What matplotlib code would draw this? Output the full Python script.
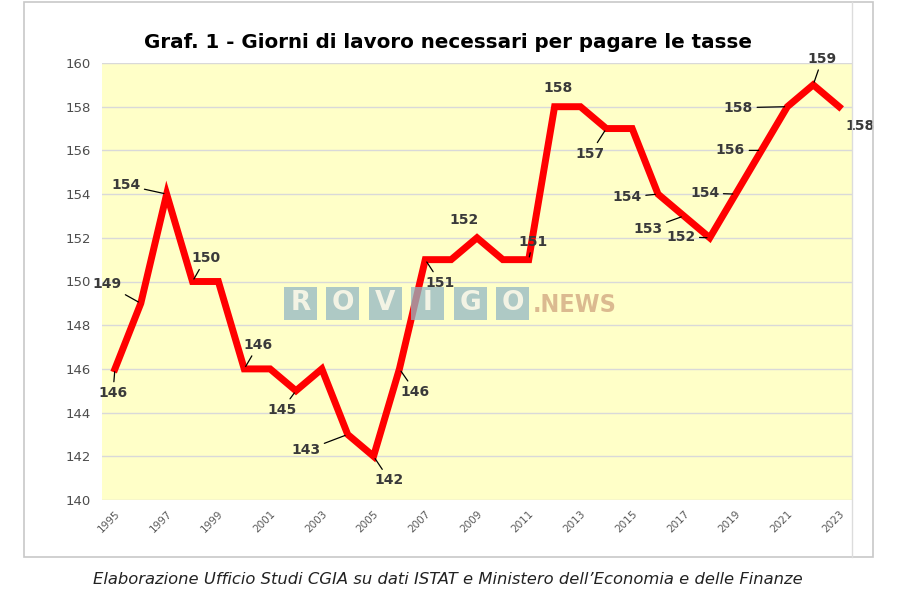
import matplotlib
matplotlib.use("Agg")
import matplotlib.pyplot as plt
from matplotlib.patches import Rectangle
from matplotlib.lines import Line2D

# ---- data ----
years = list(range(1995, 2024))
giorni = [146, 149, 154, 150, 150, 146, 146, 145, 146, 143, 142, 146, 151, 151,
          152, 151, 151, 158, 158, 157, 157, 154, 153, 152, 154, 156, 158, 159, 158]
labeled_years = [1995, 1996, 1997, 1998, 2000, 2002, 2004, 2005, 2006, 2007, 2009,
                 2011, 2012, 2014, 2016, 2017, 2018, 2019, 2020, 2021, 2022, 2023]
title = "Graf. 1 - Giorni di lavoro necessari per pagare le tasse"
caption = "Elaborazione Ufficio Studi CGIA su dati ISTAT e Ministero dell\u2019Economia e delle Finanze"
y_ticks = [140, 142, 144, 146, 148, 150, 152, 154, 156, 158, 160]

# ---- layout (label offsets in pixels) ----
label_offsets = {
    1995: (-2, -24), 1996: (-34, 19), 1997: (-41, 9), 1998: (13, 23),
    2000: (14, 24), 2002: (-14, -19), 2004: (-42, -16), 2005: (16, -24),
    2006: (16, -23), 2007: (15, -23), 2009: (-13, 18), 2011: (4, 18),
    2012: (3, 19), 2014: (-16, -25), 2016: (-31, -3), 2017: (-36, -13),
    2018: (-29, 1), 2019: (-31, 1), 2020: (-31, 0), 2021: (-49, -1),
    2022: (9, 26), 2023: (21, -19),
}
no_leader = {2009, 2012, 2023}

W, H = 900, 600
fig = plt.figure(figsize=(9, 6), dpi=100)
fig.patch.set_facecolor("white")

# outer frames
fig.add_artist(Rectangle((24 / W, 1 - 557 / H), (873 - 24) / W, (557 - 2) / H,
                         transform=fig.transFigure, fill=False,
                         edgecolor="#c8c8c8", lw=1.2))
fig.add_artist(Line2D([852 / W, 852 / W], [1 - 557 / H, 1 - 2 / H],
                      transform=fig.transFigure, color="#dcdcdc", lw=1))

ax = fig.add_axes([102 / W, 1 - 500 / H, (852 - 102) / W, (500 - 63) / H])
ax.set_facecolor("#ffffc8")
x = list(range(len(years)))
ax.plot(x, giorni, color="#ff0000", lw=5.0, solid_joinstyle="miter", zorder=3)

ax.set_xlim(-0.5, len(years) - 0.5)
ax.set_ylim(140, 160)
ax.set_yticks(y_ticks)
ax.set_yticklabels([str(v) for v in y_ticks], fontsize=9.5, color="#4d4d4d")
ax.yaxis.grid(True, color="#d9d9d9", lw=1)
ax.set_axisbelow(True)
ax.tick_params(axis="y", length=0, pad=8)
xt = [i for i, yv in enumerate(years) if (yv - 1995) % 2 == 0]
ax.set_xticks(xt)
ax.set_xticklabels([str(years[i]) for i in xt], rotation=45, ha="right", va="top",
                   rotation_mode="anchor", fontsize=7.5, color="#595959")
ax.tick_params(axis="x", length=0, pad=6)
for s in ax.spines.values():
    s.set_visible(False)

for yv in labeled_years:
    i = years.index(yv)
    dx, dy = label_offsets[yv]
    ap = None if yv in no_leader else dict(arrowstyle="-", color="black", lw=0.9,
                                            shrinkA=1, shrinkB=2)
    ax.annotate(str(giorni[i]), xy=(i, giorni[i]), xytext=(dx, dy),
                textcoords="offset pixels", ha="center", va="center",
                fontsize=10, fontweight="bold", color="#3a3a3a",
                arrowprops=ap, zorder=5, annotation_clip=False)

fig.text(448 / W, 1 - 43 / H, title, ha="center", va="center",
         fontsize=14.3, fontweight="bold", color="black")
fig.text(448 / W, 1 - 580 / H, caption, ha="center", va="center",
         fontsize=11.8, style="italic", color="#222222")

# watermark
letters = "ROVIGO"
for k, ch in enumerate(letters):
    x0 = 284 + 42.4 * k
    fig.add_artist(Rectangle((x0 / W, 1 - 320 / H), 33 / W, 33 / H,
                             transform=fig.transFigure, facecolor="#93b8c4",
                             edgecolor="none", alpha=0.75, zorder=10))
    fig.text((x0 + 16.5) / W, 1 - 303.5 / H, ch, ha="center", va="center",
             fontsize=19, fontweight="bold", color="#fbf8e8", alpha=0.9, zorder=11)
fig.text(533 / W, 1 - 305 / H, ".NEWS", ha="left", va="center", fontsize=18,
         fontweight="bold", color="#d8b38a", alpha=0.9, zorder=11,
         fontstretch="condensed", family="DejaVu Sans")

fig.savefig("out.png", dpi=100)
